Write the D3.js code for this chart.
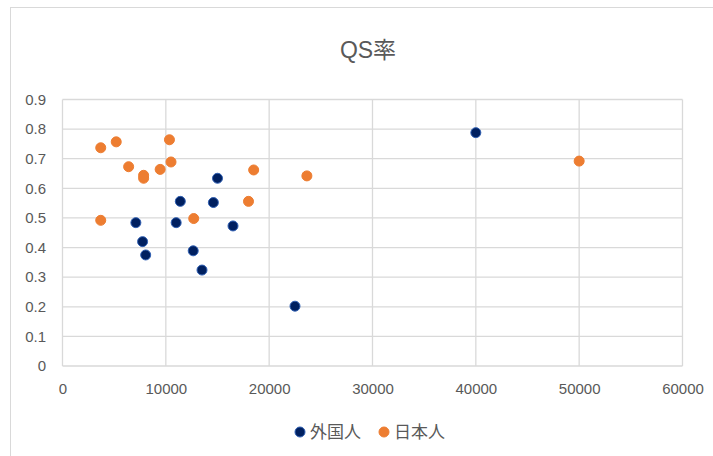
<!DOCTYPE html>
<html><head><meta charset="utf-8">
<script src="https://cdn.jsdelivr.net/npm/d3@7"></script>
<style>body{margin:0;background:#fff;overflow:hidden}svg{display:block}</style>
</head><body>
<svg id="c" width="713" height="456"></svg>
<script>
const foreignX = [40000, 22500, 15000, 11400, 14600, 7100, 11000, 16500, 7750, 8050, 12650, 13500];
const foreignY = [0.788, 0.202, 0.634, 0.556, 0.552, 0.484, 0.484, 0.473, 0.420, 0.375, 0.389, 0.324];
const japanX = [3700, 5200, 10350, 6400, 10500, 9450, 7850, 7850, 18500, 23650, 50000, 18000, 12700, 3700];
const japanY = [0.737, 0.757, 0.764, 0.673, 0.689, 0.664, 0.644, 0.634, 0.662, 0.642, 0.692, 0.556, 0.498, 0.492];
const seriesNames = ["外国人", "日本人"];
const xTicks = [0, 10000, 20000, 30000, 40000, 50000, 60000];
const yTicks = [0, 0.1, 0.2, 0.3, 0.4, 0.5, 0.6, 0.7, 0.8, 0.9];
const title = "QS率";

const svg = d3.select("#c");
const font = "'Liberation Sans', Arial, 'Noto Sans CJK JP', sans-serif";
const grey = "#595959", grid = "#d9d9d9";

svg.append("rect").attr("x", 10.5).attr("y", 7.5).attr("width", 800).attr("height", 600)
  .attr("fill", "#fff").attr("stroke", grid).attr("stroke-width", 1);

const x = d3.scaleLinear().domain([0, 60000]).range([62.5, 682.5]);
const y = d3.scaleLinear().domain([0, 0.9]).range([366, 99.5]);

const g = svg.append("g");
g.selectAll("line.h").data(yTicks).join("line")
  .attr("x1", x(0)).attr("x2", x(60000)).attr("y1", d => y(d)).attr("y2", d => y(d))
  .attr("stroke", grid).attr("stroke-width", 1.3);
g.selectAll("line.v").data(xTicks).join("line")
  .attr("y1", y(0)).attr("y2", y(0.9)).attr("x1", d => x(d)).attr("x2", d => x(d))
  .attr("stroke", grid).attr("stroke-width", 1.3);

const yAxis = d3.axisLeft(y).tickValues(yTicks).tickSize(0).tickPadding(0)
  .tickFormat(d => d === 0 ? "0" : d3.format(".1f")(d));
const ya = svg.append("g").attr("transform", "translate(46,0)").call(yAxis);
ya.select(".domain").remove();
ya.selectAll("text").attr("fill", grey).style("font-family", font).style("font-size", "15px");

const xAxis = d3.axisBottom(x).tickValues(xTicks).tickSize(0).tickPadding(0).tickFormat(d3.format("d"));
const xa = svg.append("g").attr("transform", "translate(0,383)").call(xAxis);
xa.select(".domain").remove();
xa.selectAll("text").attr("fill", grey).style("font-family", font).style("font-size", "15px");

const series = [
  {name: seriesNames[0], xs: foreignX, ys: foreignY, fill: "#002060", stroke: "#2f5fb3"},
  {name: seriesNames[1], xs: japanX, ys: japanY, fill: "#ED7D31", stroke: "#ED7D31"}
];
series.forEach(s => {
  svg.append("g").selectAll("circle").data(s.xs.map((v, i) => [v, s.ys[i]])).join("circle")
    .attr("cx", d => x(d[0])).attr("cy", d => y(d[1])).attr("r", 5)
    .attr("fill", s.fill).attr("stroke", s.stroke).attr("stroke-width", 1);
});

svg.append("text").attr("x", 368).attr("y", 58).attr("text-anchor", "middle")
  .attr("fill", grey).style("font-family", font).style("font-size", "23px").text(title);

const legX = [300, 384];
series.forEach((s, i) => {
  svg.append("circle").attr("cx", legX[i]).attr("cy", 432).attr("r", 5)
    .attr("fill", s.fill).attr("stroke", s.stroke).attr("stroke-width", 1);
  svg.append("text").attr("x", legX[i] + 10).attr("y", 438).attr("fill", grey)
    .style("font-family", "'Noto Sans CJK JP', sans-serif").style("font-size", "17px").text(s.name);
});
</script>
</body></html>
